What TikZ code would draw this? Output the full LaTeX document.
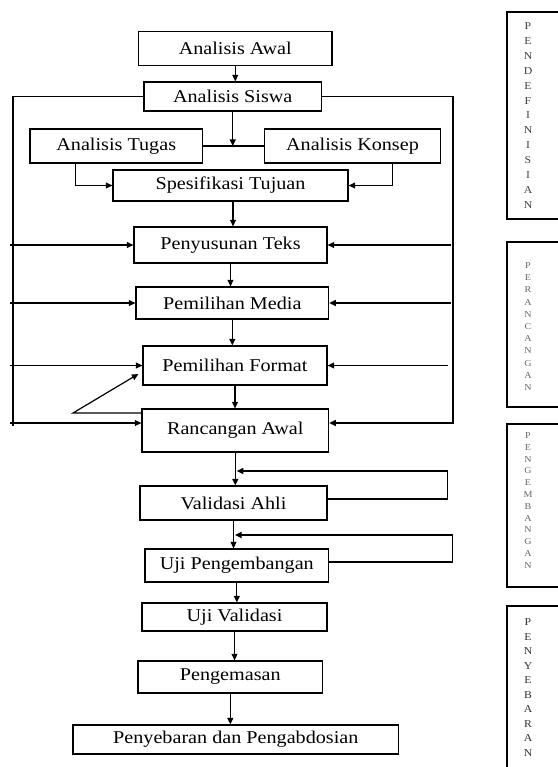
\documentclass[tikz,border=0pt]{standalone}
\usepackage{fontspec}
\setmainfont{Liberation Serif}[FakeStretch=1.12]
\usetikzlibrary{arrows.meta,calc}
\begin{document}
\begin{tikzpicture}[x=1pt,y=-1pt,
  box/.style={draw,line width=1.3pt,inner sep=0pt,font=\fontsize{18}{20}\selectfont},
  con/.style={line width=1.2pt},
  arr/.style={con,-{Triangle[length=6.5pt,width=6pt]}},
  phase/.style={align=center,inner sep=0pt},
  phasebox/.style={line width=1.3pt}]
\useasboundingbox (0,0) rectangle (557,767);
% main boxes
\node[box,minimum width=193.5pt,minimum height=34pt] (awal) at (235.25,48.7) {Analisis Awal};
\node[box,minimum width=177.5pt,minimum height=29pt] (siswa) at (232.75,96.5) {Analisis Siswa};
\node[box,minimum width=172.5pt,minimum height=34pt] (tugas) at (116.25,146) {Analisis Tugas};
\node[box,minimum width=176pt,minimum height=34pt] (konsep) at (352.5,146) {Analisis Konsep};
\node[box,minimum width=235pt,minimum height=31pt] (spes) at (230.5,185.5) {Spesifikasi Tujuan};
\node[box,minimum width=193pt,minimum height=36pt] (teks) at (230.5,245) {Penyusunan Teks};
\node[box,minimum width=192.6pt,minimum height=32pt] (media) at (232.3,303) {Pemilihan Media};
\node[box,minimum width=184pt,minimum height=39pt] (format) at (235,365.5) {Pemilihan Format};
\node[box,minimum width=186.6pt,minimum height=43pt] (rancang) at (235.3,430.5) {Rancangan Awal};
\node[box,minimum width=187pt,minimum height=34pt] (validasi) at (233.5,503) {Validasi Ahli};
\node[box,minimum width=183.6pt,minimum height=33pt] (ujipeng) at (236.8,565.5) {Uji Pengembangan};
\node[box,minimum width=185pt,minimum height=28pt] (ujival) at (234.5,617) {Uji Validasi};
\node[box,minimum width=184.6pt,minimum height=32pt] (kemas) at (230.3,677) {Pengemasan};
\node[box,minimum width=325.6pt,minimum height=29pt] (sebar) at (235.8,739.5) {Penyebaran dan Pengabdosian};
% helper coordinates
\coordinate (lx) at (10,0);
\coordinate (lv) at (13,0);
\coordinate (rx) at (453,0);
\coordinate (rx2) at (451,0);
\coordinate (rx3) at (447.5,0);
\coordinate (y471) at (0,471);
\coordinate (y535) at (0,535);
\coordinate (lin) at ([yshift=7.5pt]rancang.west);
\coordinate (rin) at ([yshift=7.5pt]rancang.east);
\coordinate (dg) at (73,413);
% main flow
\draw[arr] (awal.south) -- (awal.south |- siswa.north);
\draw[arr] (siswa.south) -- (siswa.south |- tugas.east);
\draw[con] (tugas.east) -- (konsep.west);
\draw[arr] ([xshift=-40.5pt]tugas.south) |- (spes.west);
\draw[arr] ([xshift=40pt]konsep.south) |- (spes.east);
\draw[arr] ([xshift=2.5pt]spes.south) -- ([xshift=2.5pt]spes.south |- teks.north);
\draw[arr] (teks.south) -- (teks.south |- media.north);
\draw[arr] (media.south) -- (media.south |- format.north);
\draw[arr] (format.south) -- (format.south |- rancang.north);
\draw[arr] (rancang.south) -- (rancang.south |- validasi.north);
\draw[arr] (validasi.south) -- (validasi.south |- ujipeng.north);
\draw[arr] (ujipeng.south) -- (ujipeng.south |- ujival.north);
\draw[arr] (ujival.south) -- (ujival.south |- kemas.north);
\draw[arr] (kemas.south) -- (kemas.south |- sebar.north);
% left loop
\draw[con] (siswa.west) -| ([yshift=-3pt]lin -| lv);
\draw[arr] (lin -| lx) -- (lin);
\draw[arr] (teks.west -| lx) -- (teks.west);
\draw[arr] (media.west -| lx) -- (media.west);
\draw[arr] (format.west -| lx) -- (format.west);
% right loop
\draw[arr] (siswa.east) -| (rin -| rx) -- (rin);
\draw[arr] (teks.east -| rx2) -- (teks.east);
\draw[arr] (media.east -| rx2) -- (media.east);
\draw[arr] (format.east -| rx3) -- (format.east);
% diagonal feedback
\draw[arr] ([yshift=17.5pt]rancang.west) -- (dg) -- ([xshift=-4pt,yshift=-8.5pt]format.west);
% development feedback loops
\draw[arr] ([yshift=4pt]validasi.east) -- ++(120pt,0) |- ([xshift=1.5pt]rancang.south |- y471);
\draw[arr] ([yshift=3.5pt]ujipeng.east) -- ++(123.4pt,0) |- ([xshift=1.5pt]validasi.south |- y535);
% phase boxes
\draw[phasebox] (507,12) rectangle (590,219);
\draw[phasebox] (507,242) rectangle (590,407);
\draw[phasebox] (507,424) rectangle (590,587);
\draw[phasebox] (507,606) rectangle (590,800);
\node[phase,text=black!75,font=\fontsize{10.5}{14.9}\selectfont] (pdef) at (528,115.5) {P\\E\\N\\D\\E\\F\\I\\N\\I\\S\\I\\A\\N};
\node[phase,text=black!60,font=\fontsize{9}{12.2}\selectfont] (pran) at (528,326.5) {P\\E\\R\\A\\N\\C\\A\\N\\G\\A\\N};
\node[phase,text=black!60,font=\fontsize{9}{11.8}\selectfont] (pkem) at (528,500.5) {P\\E\\N\\G\\E\\M\\B\\A\\N\\G\\A\\N};
\node[phase,text=black!80,font=\fontsize{10.5}{14.5}\selectfont] (pseb) at (528,687.5) {P\\E\\N\\Y\\E\\B\\A\\R\\A\\N};
\end{tikzpicture}
\end{document}
